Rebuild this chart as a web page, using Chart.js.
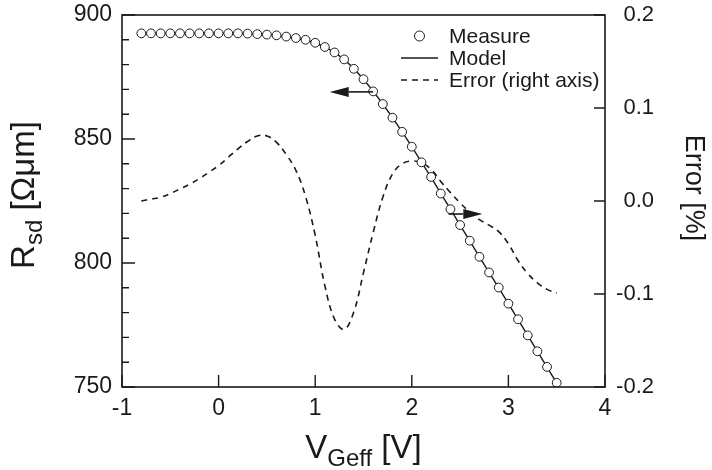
<!DOCTYPE html>
<html>
<head>
<meta charset="utf-8">
<script src="https://cdn.jsdelivr.net/npm/chart.js@4/dist/chart.umd.min.js"></script>
<style>
  html, body { margin: 0; padding: 0; background: #fff; }
  #c { display: block; }
</style>
</head>
<body>
<canvas id="c" width="712" height="470"></canvas>
<script>
// Gate voltage sweep (V)
const vGeff = [-0.8,-0.7,-0.6,-0.5,-0.4,-0.3,-0.2,-0.1,0.0,0.1,0.2,0.3,0.4,0.5,0.6,0.7,0.8,0.9,1.0,1.1,1.2,1.3,1.4,1.5,1.6,1.7,1.8,1.9,2.0,2.1,2.2,2.3,2.4,2.5,2.6,2.7,2.8,2.9,3.0,3.1,3.2,3.3,3.4,3.5];

// Measured source/drain resistance (Ohm·um)
const rsdMeasure = [892.6,892.6,892.6,892.6,892.6,892.6,892.6,892.6,892.6,892.6,892.6,
  892.5,892.3,892.1,891.8,891.3,890.7,890.0,888.8,887.1,884.9,882.1,878.3,874.1,869.2,864.1,
  858.6,852.9,846.9,840.6,834.7,828.0,821.7,815.3,809.0,802.5,796.2,790.1,783.6,777.3,770.8,
  764.4,758.1,751.7];

// Model resistance (Ohm·um)
const rsdModel = [892.6,892.6,892.6,892.6,892.6,892.6,892.6,892.6,892.6,892.6,892.6,
  892.5,892.3,892.1,891.8,891.3,890.6,889.8,888.7,887.1,884.9,882.1,878.4,874.1,869.3,864.1,
  858.6,852.9,846.9,840.7,834.5,828.1,821.7,815.3,808.9,802.5,796.2,790.0,783.6,777.2,770.8,
  764.4,758.0,751.6];

// Model error (%), right axis
const errorPct = [0.000,0.002,0.004,0.008,0.013,0.018,0.024,0.031,0.038,0.047,0.056,
  0.064,0.070,0.070,0.063,0.050,0.033,0.005,-0.037,-0.091,-0.127,-0.138,-0.119,-0.077,-0.034,0.004,
  0.029,0.040,0.043,0.041,0.034,0.021,0.009,-0.002,-0.012,-0.020,-0.026,-0.033,-0.046,-0.064,-0.078,
  -0.088,-0.095,-0.099];

// Axis ranges and tick labels
const xTicks = [-1, 0, 1, 2, 3, 4];
const rsdTicks = [750, 800, 850, 900];
const errTicks = [-0.2, -0.1, 0.0, 0.1, 0.2];

// Arrow markers pointing each curve to its axis: [fromX, toX, value]
const arrowRsd = [1.6, 1.15, 869.0];
const arrowErr = [2.38, 2.73, -0.014];

const FONT = '"Liberation Sans", Arial, Helvetica, sans-serif';
const INK = '#1a1a1a';

const pts = (ys) => vGeff.map((x, i) => ({ x: x, y: ys[i] }));

// Box frame with inward ticks
const framePlugin = {
  id: 'frame',
  afterDraw(chart) {
    const { ctx, chartArea: a, scales } = chart;
    ctx.save();
    ctx.strokeStyle = INK;
    ctx.lineWidth = 1.6;
    ctx.strokeRect(a.left, a.top, a.right - a.left, a.bottom - a.top);

    ctx.lineWidth = 1.4;
    ctx.beginPath();
    // bottom axis ticks
    xTicks.forEach(v => {
      const px = scales.x.getPixelForValue(v);
      ctx.moveTo(px, a.bottom); ctx.lineTo(px, a.bottom - 12);
    });
    // left axis: major every 50, minor every 10
    scales.y.ticks.forEach(t => {
      const py = scales.y.getPixelForValue(t.value);
      const len = rsdTicks.includes(t.value) ? 13 : 7;
      ctx.moveTo(a.left, py); ctx.lineTo(a.left + len, py);
    });
    // right axis ticks
    errTicks.forEach(v => {
      const py = scales.y2.getPixelForValue(v);
      ctx.moveTo(a.right, py); ctx.lineTo(a.right - 11, py);
    });
    ctx.stroke();
    ctx.restore();
  }
};

// Axis titles with subscripts
function drawRich(ctx, parts, cx, cy) {
  let total = 0;
  parts.forEach(p => { ctx.font = p.size + 'px ' + FONT; p.w = ctx.measureText(p.t).width; total += p.w; });
  let x = cx - total / 2;
  ctx.textBaseline = 'alphabetic';
  ctx.textAlign = 'left';
  parts.forEach(p => {
    ctx.font = p.size + 'px ' + FONT;
    ctx.fillText(p.t, x, cy + (p.dy || 0));
    x += p.w;
  });
}

const titlePlugin = {
  id: 'titles',
  afterDraw(chart) {
    const { ctx, chartArea: a } = chart;
    ctx.save();
    ctx.fillStyle = INK;
    // x title
    drawRich(ctx, [
      { t: 'V', size: 33 },
      { t: 'Geff', size: 24, dy: 8 },
      { t: ' [V]', size: 33 }
    ], (a.left + a.right) / 2, 458);
    // left title
    ctx.save();
    ctx.translate(34, 195);
    ctx.rotate(-Math.PI / 2);
    drawRich(ctx, [
      { t: 'R', size: 33 },
      { t: 'sd', size: 24, dy: 8 },
      { t: ' [Ωμm]', size: 33 }
    ], 0, 0);
    ctx.restore();
    // right title
    ctx.save();
    ctx.translate(686, 188);
    ctx.rotate(Math.PI / 2);
    drawRich(ctx, [{ t: 'Error [%]', size: 27 }], 0, 0);
    ctx.restore();
    ctx.restore();
  }
};

// Legend and arrow annotations
const annotPlugin = {
  id: 'annot',
  afterDatasetsDraw(chart) {
    const { ctx, scales } = chart;
    ctx.save();
    ctx.fillStyle = INK;
    ctx.strokeStyle = INK;

    const arrow = (x0, x1, y) => {
      const dir = Math.sign(x1 - x0);
      const head = 19, half = 5;
      ctx.lineWidth = 1.6;
      ctx.beginPath();
      ctx.moveTo(x0, y); ctx.lineTo(x1 - dir * head, y);
      ctx.stroke();
      ctx.beginPath();
      ctx.moveTo(x1, y);
      ctx.lineTo(x1 - dir * head, y - half);
      ctx.lineTo(x1 - dir * head, y + half);
      ctx.closePath();
      ctx.fill();
    };
    arrow(scales.x.getPixelForValue(arrowRsd[0]), scales.x.getPixelForValue(arrowRsd[1]),
          scales.y.getPixelForValue(arrowRsd[2]));
    arrow(scales.x.getPixelForValue(arrowErr[0]), scales.x.getPixelForValue(arrowErr[1]),
          scales.y2.getPixelForValue(arrowErr[2]));

    // legend
    const ds = chart.data.datasets;
    const sx0 = 401, sx1 = 438, tx = 449;
    const rows = [36, 58, 80];
    ctx.font = '21px ' + FONT;
    ctx.textBaseline = 'middle';
    ctx.textAlign = 'left';
    // measure symbol
    ctx.lineWidth = 1;
    ctx.fillStyle = '#fff';
    ctx.beginPath();
    ctx.arc((sx0 + sx1) / 2, rows[0], 5, 0, Math.PI * 2);
    ctx.fill(); ctx.stroke();
    // model symbol
    ctx.lineWidth = 1.4;
    ctx.beginPath();
    ctx.moveTo(sx0, rows[1]); ctx.lineTo(sx1, rows[1]);
    ctx.stroke();
    // error symbol
    ctx.setLineDash([6, 5]);
    ctx.beginPath();
    ctx.moveTo(sx0, rows[2]); ctx.lineTo(sx1, rows[2]);
    ctx.stroke();
    ctx.setLineDash([]);
    ctx.fillStyle = INK;
    ds.forEach((d, i) => ctx.fillText(d.label, tx, rows[i] + 1));
    ctx.restore();
  }
};

const tickFont = { family: FONT, size: 23 };
const noEdgePadding = s => { s.paddingTop = 0; s.paddingBottom = 0; };

new Chart(document.getElementById('c'), {
  type: 'line',
  data: {
    datasets: [
      {
        label: 'Measure',
        data: pts(rsdMeasure),
        yAxisID: 'y',
        showLine: false,
        pointStyle: 'circle',
        pointRadius: 4.4,
        pointBorderWidth: 1,
        pointBackgroundColor: '#fff',
        pointBorderColor: INK
      },
      {
        label: 'Model',
        data: pts(rsdModel),
        yAxisID: 'y',
        borderColor: INK,
        borderWidth: 1.4,
        pointRadius: 0,
        tension: 0
      },
      {
        label: 'Error (right axis)',
        data: pts(errorPct),
        yAxisID: 'y2',
        borderColor: INK,
        borderWidth: 1.6,
        borderDash: [6, 5],
        pointRadius: 0,
        tension: 0.4
      }
    ]
  },
  options: {
    responsive: false,
    animation: false,
    devicePixelRatio: 1,
    layout: { padding: { top: 15, left: 0, right: 58, bottom: 0 } },
    plugins: { legend: { display: false }, tooltip: { enabled: false } },
    scales: {
      x: {
        type: 'linear',
        min: -1, max: 4,
        grid: { display: false, drawTicks: false },
        border: { display: false },
        afterFit: s => { s.height = 83; s.paddingLeft = 0; s.paddingRight = 0; },
        afterBuildTicks: s => { s.ticks = xTicks.map(v => ({ value: v })); },
        ticks: { font: tickFont, color: INK, padding: 8, maxRotation: 0, autoSkip: false,
                 callback: v => String(v) }
      },
      y: {
        position: 'left',
        min: 750, max: 900,
        grid: { display: false, drawTicks: false },
        border: { display: false },
        afterFit: s => { s.width = 122; noEdgePadding(s); },
        ticks: { font: tickFont, color: INK, padding: 10, stepSize: 10, autoSkip: false,
                 callback: v => rsdTicks.includes(v) ? String(v) : '' }
      },
      y2: {
        position: 'right',
        min: -0.2, max: 0.2,
        grid: { display: false, drawTicks: false },
        border: { display: false },
        afterFit: s => { s.width = 49; noEdgePadding(s); },
        afterBuildTicks: s => { s.ticks = errTicks.map(v => ({ value: v })); },
        ticks: { font: { family: FONT, size: 22 }, color: INK, crossAlign: 'far', autoSkip: false,
                 callback: v => (Math.abs(v) < 1e-9 ? 0 : v).toFixed(1) }
      }
    }
  },
  plugins: [framePlugin, titlePlugin, annotPlugin]
});
</script>
</body>
</html>
